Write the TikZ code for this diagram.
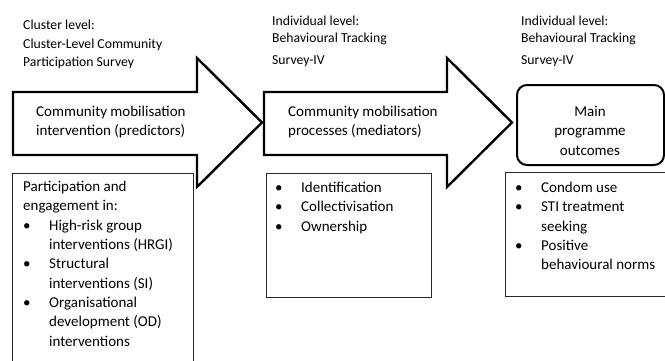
\documentclass[tikz,border=0pt]{standalone}
\usepackage{fontspec}
\setmainfont{Carlito}
\usepackage{tikz}
\usetikzlibrary{positioning}
\tikzset{
  % survey labels above the arrows
  levellab/.style={anchor=north west, inner sep=0pt, align=left,
    font=\fontsize{13.7}{17}\selectfont},
  % block arrows
  blockarrow/.style={draw=black, line width=2.4pt, line join=miter},
  % text inside the arrows
  headtext/.style={anchor=north west, inner sep=0pt, align=left,
    font=\fontsize{15}{19}\selectfont},
  % list boxes
  listbox/.style={draw=black!85, line width=0.9pt},
  listtext/.style={anchor=north west, inner sep=0pt, align=left,
    font=\fontsize{15}{19.3}\selectfont},
  % outcome box
  outcome/.style={draw=black, line width=2pt, rounded corners=10pt},
}
\newcommand{\bul}{\makebox[26pt][l]{\textbullet}}
\newcommand{\ind}{\hspace*{26pt}}

\begin{document}
\begin{tikzpicture}[x=1pt, y=-1pt]
    \useasboundingbox (0,0) rectangle (665,360);

    % Labels
    \node[levellab, font=\fontsize{13.7}{18.5}\selectfont] (clusterlab) at (23,20)
        {Cluster level:\\Cluster-Level Community\\Participation Survey};
    \node[levellab] (indivlab1) at (272,15.5)
        {Individual level:\\Behavioural Tracking\\[5pt]Survey-IV};
    \node[levellab] (indivlab2) at (521,15.5)
        {Individual level:\\Behavioural Tracking\\[5pt]Survey-IV};

    % Arrows
    \draw[blockarrow] (13,92) -- (197,92) -- (197,58) -- (262,122.5)
        -- (197,187) -- (197,155) -- (13,155) -- cycle;
    \draw[blockarrow] (264,92) -- (447,92) -- (447,58) -- (512,122.5)
        -- (447,187) -- (447,155) -- (264,155) -- cycle;
    \draw[outcome] (517,85) rectangle (664,165);

    \node[headtext] (predictors) at (36,105.5)
        {Community mobilisation\\intervention (predictors)};
    \node[headtext] (mediators) at (288,105.5)
        {Community mobilisation\\processes (mediators)};
    \node[headtext, anchor=north, align=center, font=\fontsize{15}{19.5}\selectfont]
        (outcomes) at (590,105.5) {Main\\programme\\outcomes};

    % Boxes
    \draw[listbox] (12,173) rectangle (193,375);
    \draw[listbox] (266,173) rectangle (431,297);
    \draw[listbox] (505,172) rectangle (680,296);

    \node[listtext] (partlist) at (23,181)
        {Participation and\\engagement in:\\
         \bul High-risk group\\\ind interventions (HRGI)\\
         \bul Structural\\\ind interventions (SI)\\
         \bul Organisational\\\ind development (OD)\\\ind interventions};
    \node[listtext] (medlist) at (275,182)
        {\bul Identification\\\bul Collectivisation\\\bul Ownership};
    \node[listtext] (outlist) at (515,182)
        {\bul Condom use\\\bul STI treatment\\\ind seeking\\
         \bul Positive\\\ind behavioural norms};
\end{tikzpicture}
\end{document}
